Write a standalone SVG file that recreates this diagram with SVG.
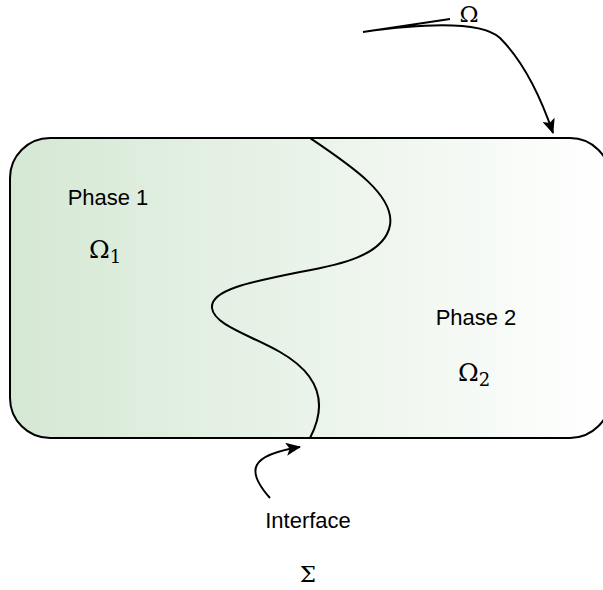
<svg xmlns="http://www.w3.org/2000/svg" width="603" height="590" viewBox="0 0 603 590">
<defs>
<linearGradient id="g" x1="0" y1="0" x2="1" y2="0">
<stop offset="0" stop-color="#d5e8d4"/>
<stop offset="1" stop-color="#ffffff"/>
</linearGradient>
<marker id="arr" markerWidth="15" markerHeight="13" refX="14" refY="6.5" orient="auto" markerUnits="userSpaceOnUse" viewBox="0 0 15 13">
<path d="M0,0 L15,6.5 L0,13 L3.5,6.5 Z" fill="#000"/>
</marker>
<style>
.lbl{font-family:"Liberation Sans",Arial,sans-serif;font-size:22px;fill:#000;text-anchor:middle}
.math{font-family:"DejaVu Serif","Liberation Serif",serif;font-size:25px;fill:#000}
.sm{font-size:23px}
.sub{font-size:18px}
.ln{fill:none;stroke:#000;stroke-width:2}
</style>
</defs>
<g id="domain">
<rect x="10" y="138" width="600" height="300" rx="40" ry="40" fill="url(#g)" stroke="#000" stroke-width="2"/>
</g>
<g id="interface-curve">
<path class="ln" d="M310,138 C350,165 395,195 390,225 C385,255 340,265 300,272 C250,282 210,290 212,308 C214,325 250,335 280,352 C315,372 330,400 310,438"/>
</g>
<g id="phase1">
<text class="lbl" x="108" y="205">Phase 1</text>
<text class="math" x="89" y="258">Ω<tspan class="sub" dy="5">1</tspan></text>
</g>
<g id="phase2">
<text class="lbl" x="476" y="325">Phase 2</text>
<text class="math" x="458" y="381">Ω<tspan class="sub" dy="5">2</tspan></text>
</g>
<g id="omega-label">
<text class="math sm" x="469" y="22" text-anchor="middle">Ω</text>
</g>
<g id="interface-label">
<text class="lbl" x="308" y="528">Interface</text>
<text class="math sm" x="308" y="582" text-anchor="middle">Σ</text>
</g>
<g id="connectors">
<path class="ln" stroke-width="1.5" d="M450,19 L363,32 C420,24 480,20 500,38 C522,60 540,95 553,133" marker-end="url(#arr)"/>
<path class="ln" d="M270,498 C245,470 250,455 300,447" marker-end="url(#arr)"/>
</g>
</svg>
